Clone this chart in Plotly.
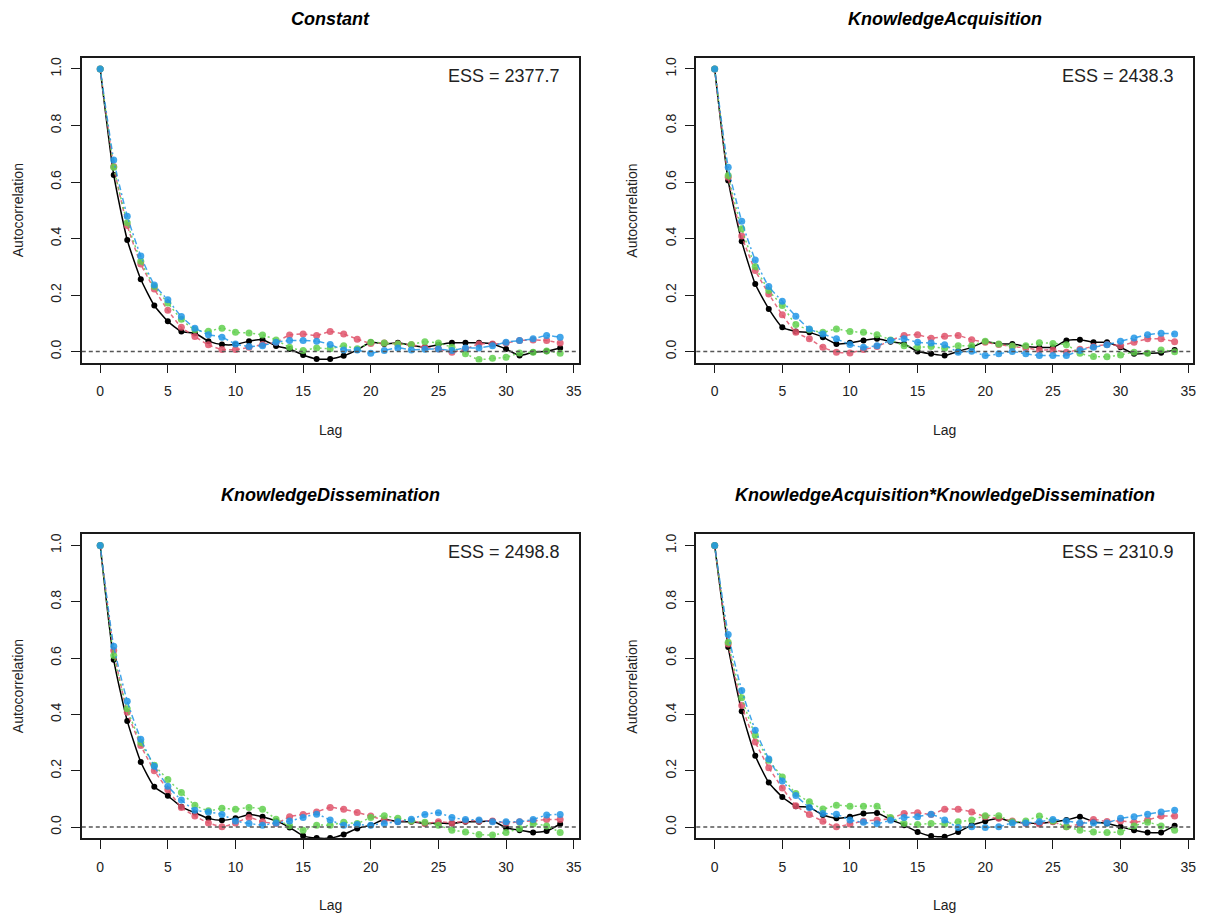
import plotly.graph_objects as go

lags = list(range(35))
titles = ["Constant", "KnowledgeAcquisition", "KnowledgeDissemination",
          "KnowledgeAcquisition*KnowledgeDissemination"]
ess_labels = ["ESS = 2377.7", "ESS = 2438.3", "ESS = 2498.8", "ESS = 2310.9"]
x_ticks = [0, 5, 10, 15, 20, 25, 30, 35]
y_ticks = [0.0, 0.2, 0.4, 0.6, 0.8, 1.0]
y_tick_text = ["0.0", "0.2", "0.4", "0.6", "0.8", "1.0"]

# chain 1 (black), chain 2 (red), chain 3 (green), chain 4 (blue)
constant_c1 = [1.0, 0.625, 0.395, 0.256, 0.163, 0.107, 0.071, 0.065, 0.037, 0.025, 0.025, 0.037, 0.042, 0.020, 0.009, -0.012, -0.026, -0.026, -0.015, 0.006, 0.033, 0.027, 0.031, 0.022, 0.015, 0.024, 0.031, 0.031, 0.031, 0.027, 0.009, -0.014, -0.002, 0.001, 0.013]
constant_c2 = [1.0, 0.655, 0.446, 0.310, 0.221, 0.146, 0.086, 0.053, 0.024, 0.007, 0.007, 0.015, 0.025, 0.033, 0.059, 0.062, 0.057, 0.071, 0.062, 0.044, 0.029, 0.030, 0.027, 0.024, 0.015, 0.009, -0.002, 0.009, 0.027, 0.027, 0.030, 0.039, 0.041, 0.039, 0.030]
constant_c3 = [1.0, 0.652, 0.456, 0.320, 0.230, 0.172, 0.114, 0.077, 0.072, 0.083, 0.068, 0.066, 0.059, 0.041, 0.015, 0.004, 0.013, 0.010, 0.021, 0.010, 0.033, 0.030, 0.027, 0.025, 0.035, 0.030, 0.015, -0.008, -0.028, -0.024, -0.020, -0.005, -0.002, 0.002, -0.006]
constant_c4 = [1.0, 0.678, 0.479, 0.338, 0.236, 0.183, 0.124, 0.083, 0.060, 0.051, 0.027, 0.018, 0.021, 0.033, 0.039, 0.039, 0.037, 0.025, 0.006, 0.006, -0.006, 0.004, 0.013, 0.006, 0.008, 0.009, 0.004, 0.013, 0.013, 0.021, 0.033, 0.039, 0.045, 0.057, 0.051]

acq_c1 = [1.0, 0.605, 0.390, 0.239, 0.151, 0.086, 0.071, 0.068, 0.051, 0.027, 0.031, 0.039, 0.045, 0.035, 0.027, 0.000, -0.008, -0.014, 0.001, 0.015, 0.035, 0.027, 0.027, 0.018, 0.015, 0.015, 0.039, 0.042, 0.033, 0.033, 0.015, -0.008, -0.006, -0.004, 0.006]
acq_c2 = [1.0, 0.617, 0.409, 0.287, 0.204, 0.130, 0.068, 0.045, 0.015, -0.002, -0.005, 0.007, 0.018, 0.039, 0.057, 0.060, 0.047, 0.054, 0.057, 0.042, 0.033, 0.025, 0.018, 0.013, 0.006, 0.006, -0.002, 0.008, 0.018, 0.025, 0.021, 0.033, 0.045, 0.045, 0.035]
acq_c3 = [1.0, 0.623, 0.435, 0.301, 0.216, 0.163, 0.096, 0.077, 0.068, 0.080, 0.071, 0.068, 0.060, 0.041, 0.021, 0.015, 0.018, 0.012, 0.021, 0.021, 0.037, 0.027, 0.020, 0.021, 0.031, 0.029, 0.024, -0.006, -0.017, -0.018, -0.012, -0.002, -0.006, 0.006, -0.001]
acq_c4 = [1.0, 0.652, 0.461, 0.324, 0.230, 0.178, 0.125, 0.080, 0.062, 0.045, 0.025, 0.015, 0.021, 0.039, 0.045, 0.033, 0.030, 0.024, -0.002, 0.001, -0.014, -0.008, 0.000, -0.008, -0.014, -0.014, -0.014, 0.004, 0.015, 0.024, 0.037, 0.048, 0.060, 0.065, 0.062]

dis_c1 = [1.0, 0.594, 0.377, 0.231, 0.143, 0.111, 0.072, 0.051, 0.031, 0.024, 0.031, 0.045, 0.037, 0.022, -0.001, -0.031, -0.039, -0.039, -0.026, -0.005, 0.007, 0.027, 0.019, 0.019, 0.013, 0.015, 0.013, 0.019, 0.019, 0.022, -0.002, -0.011, -0.019, -0.014, 0.011]
dis_c2 = [1.0, 0.627, 0.408, 0.290, 0.200, 0.133, 0.070, 0.039, 0.015, 0.001, 0.015, 0.034, 0.019, 0.013, 0.037, 0.045, 0.054, 0.070, 0.063, 0.052, 0.039, 0.025, 0.022, 0.022, 0.013, 0.019, 0.015, 0.022, 0.022, 0.022, 0.015, 0.019, 0.022, 0.027, 0.027]
dis_c3 = [1.0, 0.609, 0.420, 0.300, 0.220, 0.169, 0.123, 0.078, 0.058, 0.067, 0.063, 0.070, 0.063, 0.028, 0.005, -0.011, 0.007, 0.007, 0.017, 0.013, 0.034, 0.040, 0.031, 0.022, 0.017, 0.007, -0.011, -0.017, -0.026, -0.028, -0.019, -0.005, 0.011, 0.004, -0.019]
dis_c4 = [1.0, 0.642, 0.447, 0.312, 0.216, 0.145, 0.096, 0.060, 0.054, 0.045, 0.022, 0.013, 0.007, 0.015, 0.022, 0.034, 0.046, 0.025, 0.007, 0.009, 0.007, 0.013, 0.019, 0.028, 0.045, 0.051, 0.034, 0.027, 0.025, 0.019, 0.019, 0.019, 0.027, 0.043, 0.045]

int_c1 = [1.0, 0.639, 0.411, 0.253, 0.158, 0.107, 0.074, 0.070, 0.043, 0.031, 0.037, 0.048, 0.050, 0.027, 0.007, -0.017, -0.032, -0.034, -0.017, 0.007, 0.021, 0.031, 0.019, 0.015, 0.013, 0.019, 0.025, 0.037, 0.019, 0.013, 0.001, -0.011, -0.019, -0.019, 0.005]
int_c2 = [1.0, 0.650, 0.432, 0.302, 0.211, 0.139, 0.076, 0.045, 0.021, 0.001, 0.011, 0.021, 0.025, 0.030, 0.048, 0.051, 0.045, 0.063, 0.063, 0.054, 0.037, 0.031, 0.022, 0.013, 0.011, 0.019, 0.001, 0.011, 0.027, 0.020, 0.022, 0.017, 0.025, 0.039, 0.039]
int_c3 = [1.0, 0.656, 0.459, 0.326, 0.237, 0.178, 0.119, 0.090, 0.064, 0.078, 0.074, 0.074, 0.074, 0.034, 0.013, 0.009, 0.013, 0.011, 0.019, 0.025, 0.040, 0.040, 0.019, 0.022, 0.039, 0.022, 0.001, -0.011, -0.017, -0.019, -0.017, 0.004, 0.017, 0.004, -0.011]
int_c4 = [1.0, 0.684, 0.485, 0.344, 0.242, 0.164, 0.112, 0.070, 0.048, 0.046, 0.025, 0.017, 0.012, 0.024, 0.034, 0.037, 0.046, 0.025, -0.001, 0.001, -0.001, 0.001, 0.015, 0.015, 0.019, 0.027, 0.022, 0.015, 0.015, 0.015, 0.031, 0.037, 0.046, 0.054, 0.060]

panels = [
    [constant_c1, constant_c2, constant_c3, constant_c4],
    [acq_c1, acq_c2, acq_c3, acq_c4],
    [dis_c1, dis_c2, dis_c3, dis_c4],
    [int_c1, int_c2, int_c3, int_c4],
]

chain_colors = ["rgba(0,0,0,1)", "rgba(223,83,107,0.85)", "rgba(97,208,79,0.85)", "rgba(34,151,230,0.85)"]
chain_dash = ["solid", "4px,3px", "2px,3px", "2px,3px,6px,3px"]
chain_msize = [6, 7, 7, 7]

W, H = 1211, 915
# plot boxes in pixels: (left, right, top, bottom)
boxes = [(82, 580, 57, 362), (698, 1196, 57, 362), (82, 580, 534, 838), (698, 1196, 534, 838)]

FONT = "Liberation Sans, Arial, sans-serif"
fig = go.Figure()
annotations = []
shapes = []
layout_axes = {}

for i, (series, box) in enumerate(zip(panels, boxes)):
    n = "" if i == 0 else str(i + 1)
    xa, ya = "x" + n, "y" + n
    l, r, t, b = box
    xd = [l / W, r / W]
    yd = [1 - b / H, 1 - t / H]
    for c in range(4):
        assert len(series[c]) == len(lags)
        fig.add_trace(go.Scatter(
            x=lags, y=series[c], xaxis=xa, yaxis=ya, mode="lines+markers",
            line=dict(color=chain_colors[c], width=1.5, dash=chain_dash[c], shape="spline", smoothing=0.5),
            marker=dict(color=chain_colors[c], size=chain_msize[c]),
            showlegend=False, hoverinfo="skip"))
    axis_common = dict(showline=True, mirror=True, linecolor="#1a1a1a", linewidth=1.6,
                       ticks="outside", ticklen=9, tickwidth=1.2, tickcolor="#1a1a1a",
                       showgrid=False, zeroline=False,
                       tickfont=dict(family=FONT, size=14, color="#222"))
    layout_axes["xaxis" + n] = dict(domain=xd, range=[-1.36, 35.36], anchor=ya,
                                    tickvals=x_ticks, ticklabelstandoff=6, **axis_common)
    layout_axes["yaxis" + n] = dict(domain=yd, range=[-0.039, 1.039], anchor=xa,
                                    tickvals=y_ticks, ticktext=y_tick_text, tickangle=-90,
                                    ticklabelstandoff=4, **axis_common)
    shapes.append(dict(type="line", xref=xa + " domain", yref=ya, x0=0, x1=1, y0=0, y1=0,
                       line=dict(color="#555", width=1.5, dash="4px,3px")))
    cx = (l + r) / 2 / W
    annotations.append(dict(text="<b><i>" + titles[i] + "</i></b>", x=cx, y=1 - (t - 39) / H,
                            xref="paper", yref="paper", showarrow=False, xanchor="center", yanchor="middle",
                            font=dict(family=FONT, size=18, color="#000")))
    annotations.append(dict(text=ess_labels[i], x=(r - 17) / W, y=1 - (t + 18) / H,
                            xref="paper", yref="paper", showarrow=False, xanchor="right", yanchor="middle",
                            font=dict(family=FONT, size=18, color="#222")))
    annotations.append(dict(text="Lag", x=cx, y=1 - (b + 67) / H,
                            xref="paper", yref="paper", showarrow=False, xanchor="center", yanchor="middle",
                            font=dict(family=FONT, size=14, color="#222")))
    annotations.append(dict(text="Autocorrelation", x=(l - 64) / W, y=1 - (t + b) / 2 / H,
                            xref="paper", yref="paper", showarrow=False, xanchor="center", yanchor="middle",
                            textangle=-90, font=dict(family=FONT, size=14, color="#222")))

fig.update_layout(width=W, height=H, margin=dict(l=0, r=0, t=0, b=0),
                  paper_bgcolor="white", plot_bgcolor="white",
                  annotations=annotations, shapes=shapes, **layout_axes)
fig.write_html("out.html")
